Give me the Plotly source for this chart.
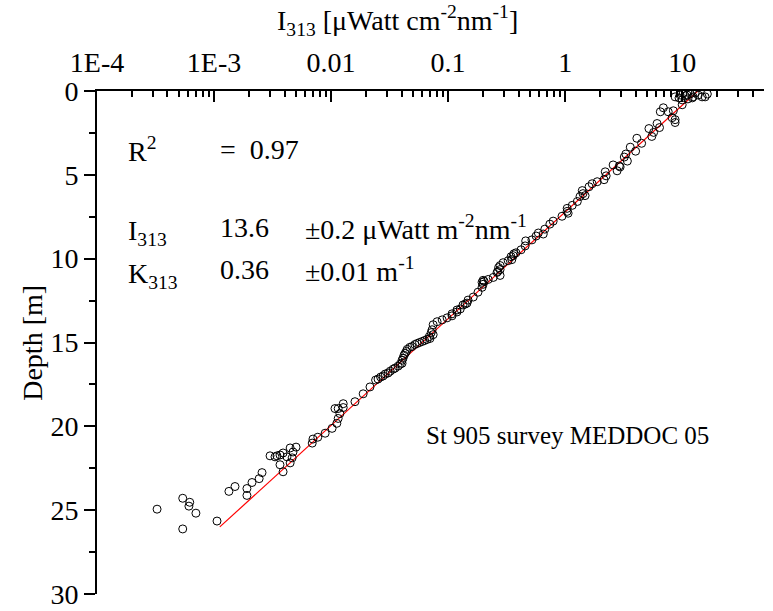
import plotly.graph_objects as go

# Measured profile (depth in m, irradiance I313 in µW cm^-2 nm^-1)
depth_m = [
    0.35, 0.24, 0.12, 0.24, 0.18, 0.35, 0.24, 0.35, 0.35, 0.18, 0.53, 0.82, 0.41, 0.29, 0.12, 0.47, 0.41,
    1.00, 1.24, 1.24, 1.18, 1.59, 1.71, 1.88, 1.94, 2.18, 2.24, 2.47, 2.71, 2.82, 3.12, 3.35, 3.59, 3.76,
    3.94, 4.18, 4.53, 4.47, 4.41, 4.76, 4.82, 5.06, 5.29, 5.41, 5.53, 5.71, 5.94, 6.12, 6.24, 6.29, 6.59,
    6.82, 7.00, 7.18, 7.29, 7.47, 7.76, 7.94, 8.24, 8.53, 8.65, 8.88, 8.47, 8.94, 9.24, 9.47, 9.65, 9.82,
    9.88, 9.71, 10.06, 10.12, 10.24, 10.41, 10.53, 10.65, 10.76, 10.82, 11.00, 11.12, 11.24, 11.29, 11.41,
    11.35, 11.53, 11.71, 12.00, 12.29, 12.47, 12.76, 13.00, 13.06, 13.29, 13.53, 13.65, 12.71, 12.65, 13.18,
    13.41, 13.76, 13.94, 14.24, 14.53, 14.76, 14.82, 14.94, 15.06, 15.24, 15.41, 15.65, 15.94, 16.24, 16.41,
    16.59, 16.82, 17.00, 17.18, 17.65, 18.06, 18.53, 18.65, 14.41, 14.65, 14.88, 15.00, 15.12, 15.29, 15.53,
    15.76, 16.06, 16.29, 16.53, 16.71, 16.88, 17.06, 17.24,
    18.88, 18.94, 18.94, 19.24, 19.53, 19.82, 20.12, 20.41, 20.65, 20.76, 21.00, 21.24, 21.29, 21.53, 21.59,
    21.71, 21.76, 21.76, 21.82, 21.88, 21.82, 22.29, 22.18, 22.71, 22.76, 23.12, 23.35, 23.71, 24.12, 23.59,
    23.88, 25.65, 25.18, 24.53, 24.76, 24.29, 24.94, 26.12,
]
irradiance = [
    8.7, 9.6, 10.2, 11.0, 11.7, 12.4, 13.7, 14.8, 15.7, 16.4, 10.0, 10.0, 12.2, 10.6, 12.9, 11.2, 9.4,
    6.9, 6.5, 7.6, 8.4, 8.2, 8.7, 8.7, 6.1, 6.4, 5.2, 5.7, 5.5, 4.1, 4.5, 3.6, 4.0, 3.3,
    3.2, 3.4, 2.95, 2.9, 2.57, 2.78, 2.20, 2.24, 2.15, 1.88, 1.70, 1.60, 1.40, 1.42, 1.48, 1.34, 1.27,
    1.15, 1.04, 1.04, 1.06, 0.94, 0.79, 0.74, 0.67, 0.65, 0.565, 0.52, 0.59, 0.46, 0.455, 0.42, 0.38, 0.36,
    0.345, 0.365, 0.35, 0.326, 0.295, 0.278, 0.27, 0.278, 0.266, 0.262, 0.278, 0.243, 0.22, 0.199, 0.195,
    0.203, 0.199, 0.195, 0.18, 0.164, 0.148, 0.134, 0.127, 0.119, 0.108, 0.098, 0.089, 0.14, 0.145, 0.119,
    0.108, 0.0805, 0.0745, 0.073, 0.0745, 0.070, 0.066, 0.060, 0.0543, 0.0492, 0.0447, 0.0429, 0.0412, 0.0404, 0.0374,
    0.0339, 0.0307, 0.0278, 0.0252, 0.0215, 0.0188, 0.016, 0.0127, 0.0717, 0.069, 0.063, 0.057, 0.052, 0.047, 0.044,
    0.042, 0.0404, 0.039, 0.0352, 0.032, 0.029, 0.0265, 0.024,
    0.0127, 0.0115, 0.0108, 0.0119, 0.0115, 0.0112, 0.0102, 0.0089, 0.0077, 0.0070, 0.0069, 0.00502, 0.00447, 0.00473, 0.00389,
    0.00366, 0.00345, 0.00301, 0.0042, 0.00465, 0.00332, 0.00366, 0.00447, 0.00389, 0.00257, 0.00243, 0.00211, 0.00191, 0.00191, 0.00151,
    0.00134, 0.00106, 0.00070, 0.00062, 0.00061, 0.00054, 0.000326, 0.00054,
]

# Exponential fit (straight on log axis): endpoints
fit_depth = [0.0, 26.0]
fit_irradiance = [13.6, 0.00112]

x_tick_vals = [1e-4, 1e-3, 1e-2, 1e-1, 1, 10]
x_tick_text = ["1E-4", "1E-3", "0.01", "0.1", "1", "10"]
y_tick_vals = [0, 5, 10, 15, 20, 25, 30]

FONT = "Liberation Serif"
TICK_FS = 28
ANN_FS = 28

minor_x = [m * 10.0 ** e for e in range(-4, 2) for m in range(2, 10) if m * 10.0 ** e <= 50]

fig = go.Figure()
fig.add_trace(go.Scatter(
    x=fit_irradiance, y=fit_depth, mode="lines",
    line=dict(color="red", width=1.2), showlegend=False, hoverinfo="skip"))
fig.add_trace(go.Scatter(
    x=irradiance, y=depth_m, mode="markers",
    marker=dict(symbol="circle-open", size=8, color="black", line=dict(width=1, color="black")),
    showlegend=False))

fig.update_layout(
    width=773, height=611,
    margin=dict(l=97, r=9, t=91, b=17),
    paper_bgcolor="white", plot_bgcolor="white",
    font=dict(family=FONT, size=ANN_FS, color="black"),
    xaxis=dict(
        type="log", side="top", range=[-4, 1.69897], automargin=False,
        showline=True, linewidth=2, linecolor="black",
        tickmode="array", tickvals=x_tick_vals, ticktext=x_tick_text,
        ticks="inside", ticklen=11, tickwidth=2, tickcolor="black",
        minor=dict(tickmode="array", tickvals=minor_x, ticks="inside", ticklen=6,
                   tickwidth=1.5, tickcolor="black", showgrid=False),
        showgrid=False, zeroline=False,
        tickfont=dict(family=FONT, size=TICK_FS),
        ticklabelstandoff=6, ticklabeloverflow="allow",
    ),
    yaxis=dict(
        range=[30, 0], automargin=False, showline=True, linewidth=2, linecolor="black",
        tickmode="array", tickvals=y_tick_vals,
        ticks="outside", ticklen=11, tickwidth=2, tickcolor="black",
        minor=dict(tickmode="array", tickvals=[2.5, 7.5, 12.5, 17.5, 22.5, 27.5],
                   ticks="outside", ticklen=6, tickwidth=1.5,
                   tickcolor="black", showgrid=False),
        showgrid=False, zeroline=False,
        tickfont=dict(family=FONT, size=TICK_FS),
        ticklabeloverflow="allow",
    ),
)

ann = []
def txt(x, y, s, xanchor="left", size=ANN_FS, **kw):
    ann.append(dict(x=x, y=y, xref="paper", yref="paper", text=s, showarrow=False,
                    xanchor=xanchor, yanchor="middle", font=dict(family=FONT, size=size), **kw))

txt(0.043, 0.884, "R<sup>2</sup>")
txt(0.181, 0.884, "=  0.97")
txt(0.043, 0.718, "I<sub>313</sub>")
txt(0.182, 0.729, "13.6")
txt(0.309, 0.729, "±0.2 μWatt m<sup>-2</sup>nm<sup>-1</sup>")
txt(0.043, 0.634, "K<sub>313</sub>")
txt(0.182, 0.645, "0.36")
txt(0.309, 0.645, "±0.01 m<sup>-1</sup>")
txt(0.49, 0.316, "St 905 survey MEDDOC 05", size=25)
txt(0.45, 1.14, "I<sub>313</sub> [μWatt cm<sup>-2</sup>nm<sup>-1</sup>]", xanchor="center")
ann.append(dict(x=-0.097, y=0.5, xref="paper", yref="paper", text="Depth [m]", textangle=-90,
                showarrow=False, xanchor="center", yanchor="middle", font=dict(family=FONT, size=ANN_FS)))
fig.update_layout(annotations=ann)

fig.write_html("out.html")
